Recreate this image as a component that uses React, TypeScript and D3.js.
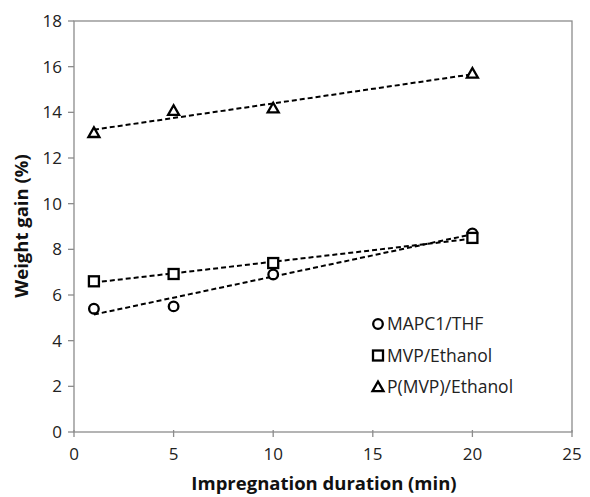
import React from "react";
import * as d3 from "d3";

const durations = [1, 5, 10, 20];
const mapc1THF = [5.4, 5.5, 6.9, 8.7];
const mvpEthanol = [6.6, 6.92, 7.4, 8.5];
const pmvpEthanol = [13.1, 14.07, 14.18, 15.7];
const xTicks = [0, 5, 10, 15, 20, 25];
const yTicks = [0, 2, 4, 6, 8, 10, 12, 14, 16, 18];
const seriesNames = ["MAPC1/THF", "MVP/Ethanol", "P(MVP)/Ethanol"];
const seriesShapes = ["circle", "square", "triangle"];

const W = 590, H = 497;
const left = 74, right = 572, top = 21, bottom = 432;
const FONT = "'Open Sans', 'Liberation Sans', sans-serif";

function fit(xs: number[], ys: number[]) {
  const mx = d3.mean(xs)!, my = d3.mean(ys)!;
  let num = 0, den = 0;
  xs.forEach((x, i) => { num += (x - mx) * (ys[i] - my); den += (x - mx) * (x - mx); });
  const b = num / den;
  return { a: my - b * mx, b };
}

function Marker({ shape, cx, cy }: { shape: string; cx: number; cy: number }) {
  const sw = 2.3;
  if (shape === "circle") return <circle cx={cx} cy={cy} r={4.8} fill="white" stroke="black" strokeWidth={sw} />;
  if (shape === "square") return <rect x={cx - 5} y={cy - 5} width={10} height={10} fill="white" stroke="black" strokeWidth={sw} />;
  const s = 5.5;
  return <path d={`M${cx},${cy - s}L${cx + s},${cy + s * 0.75}L${cx - s},${cy + s * 0.75}Z`} fill="white" stroke="black" strokeWidth={sw} strokeLinejoin="miter" />;
}

export default function App() {
  const x = d3.scaleLinear().domain([0, 25]).range([left, right]);
  const y = d3.scaleLinear().domain([0, 18]).range([bottom, top]);
  const series = [mapc1THF, mvpEthanol, pmvpEthanol];
  const x0 = d3.min(durations)!, x1 = d3.max(durations)!;
  const line = d3.line<[number, number]>().x(d => x(d[0])).y(d => y(d[1]));
  const axisColor = "#8c8c8c";

  return (
    <svg width={W} height={H} style={{ position: "absolute", left: 0, top: 0, background: "white" }} fontFamily={FONT}>
      <rect x={0} y={0} width={W} height={H} fill="white" />
      <rect x={left} y={top} width={right - left} height={bottom - top} fill="none" stroke={axisColor} strokeWidth={1.3} />
      {yTicks.map(t => (
        <g key={"y" + t}>
          <line x1={left - 6} x2={left} y1={y(t)} y2={y(t)} stroke={axisColor} strokeWidth={1.3} />
          <text x={left - 12} y={y(t)} dy="0.35em" textAnchor="end" fontSize={17} fill="#222">{t}</text>
        </g>
      ))}
      {xTicks.map(t => (
        <g key={"x" + t}>
          <line x1={x(t)} x2={x(t)} y1={bottom - 2} y2={bottom + 5} stroke={axisColor} strokeWidth={1.3} />
          <text x={x(t)} y={bottom + 28} textAnchor="middle" fontSize={17} fill="#222">{t}</text>
        </g>
      ))}
      <text x={324} y={490} textAnchor="middle" fontSize={18.5} fontWeight="bold" fill="#111">Impregnation duration (min)</text>
      <text transform={`translate(28,226) rotate(-90)`} textAnchor="middle" fontSize={18.5} fontWeight="bold" fill="#111">Weight gain (%)</text>
      {series.map((vals, i) => {
        const f = fit(durations, vals);
        return (
          <path key={"t" + i} d={line([[x0, f.a + f.b * x0], [x1, f.a + f.b * x1]])!} fill="none" stroke="black" strokeWidth={2} strokeDasharray="5,3" />
        );
      })}
      {series.map((vals, i) => vals.map((v, j) => (
        <Marker key={`m${i}-${j}`} shape={seriesShapes[i]} cx={x(durations[j])} cy={y(v)} />
      )))}
      {seriesNames.map((n, i) => (
        <g key={"l" + i}>
          <Marker shape={seriesShapes[i]} cx={378} cy={324 + i * 31.5} />
          <text x={387} y={324 + i * 31.5} dy="0.35em" fontSize={17.5} fill="#222">{n}</text>
        </g>
      ))}
    </svg>
  );
}
